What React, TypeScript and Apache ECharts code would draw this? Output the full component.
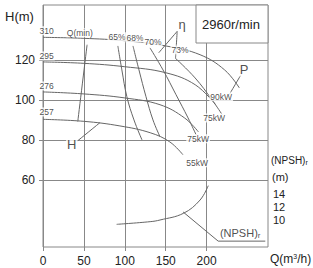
import React, { useEffect, useRef } from "react";
import * as echarts from "echarts";

// Head curves for the four impeller diameters, [Q m³/h, H m]
const H310 = [[0, 131.5], [50, 131], [100, 129.8], [150, 127.2], [192, 122.8], [222, 115.2], [240, 106.2]];
const H295 = [[0, 119.2], [50, 118.5], [100, 116.8], [150, 113.8], [186, 107.8], [211, 97.8]];
const H276 = [[0, 104.2], [50, 103.2], [100, 101.2], [143, 97.8], [173, 91.2], [190, 84.2]];
const H257 = [[0, 90.5], [50, 89.5], [94, 87.2], [131, 83.8], [155, 79.2], [171, 72.8]];

// Iso-efficiency lines
const ETA65 = [[91.5, 127.2], [96.4, 115.2], [102.5, 101.8], [111.2, 90.2], [121, 80.2]];
const ETA68 = [[110, 127.2], [117.3, 115.2], [125.9, 101.8], [134.4, 90.2], [143, 81.8]];
const ETA70 = [[130.8, 126.2], [146.7, 115.2], [162.6, 102.8], [177.3, 91.2], [187.1, 82.8]];
const ETA73 = [[161.4, 121.2], [185.9, 111.2], [206.7, 100.2], [219, 92.8]];

// Required NPSH, [Q m³/h, NPSH m]
const NPSH = [[90, 9.4], [131, 9.8], [143, 10.05], [171.6, 11.05], [192, 13.05], [202, 15.2]];

// Leader lines
const QMIN_LINE = [[53.9, 127.8], [42.5, 89.4]];
const H_LEADER = [[42.5, 79.8], [69.5, 88.8]];
const P_LEADER = [[242, 112.8], [227.6, 102.8]];
const ETA_LEADER_A = [[164, 134.5], [141.5, 123.8]];
const ETA_LEADER_B = [[164, 134.5], [162, 121.2]];
const NPSH_LEADER = [[171.2, 44.2], [214.1, 29.6], [271.7, 29.6]];

// Annotations placed in data units: [Q, H, text]
const CURVE_TAGS: [number, number, string][] = [
  [4.5, 134.8, "310"], [4.5, 122.2, "295"], [4.5, 107.2, "276"], [4.5, 94.2, "257"],
];
const POWER_TAGS: [number, number, string][] = [
  [217.8, 101.8, "90kW"], [209.2, 91.2, "75kW"], [189.6, 80.8, "75kW"], [188.4, 68.8, "55kW"],
];
const EFF_TAGS: [number, number, string][] = [
  [90.4, 131.8, "65%"], [112.4, 131.2, "68%"], [134.4, 129.2, "70%"], [167.5, 125.2, "73%"], [45, 133.8, "Q(min)"],
];
const BIG_TAGS: [number, number, string][] = [
  [170, 137.8, "η"], [245.9, 115.2, "P"], [35.2, 77.8, "H"],
];
const NPSH_TAG: [number, number, string] = [241, 33.6, "(NPSH)r"];

const Q_TICKS = [0, 50, 100, 150, 200];
const H_TICKS = [60, 80, 100, 120];
const NPSH_TICKS = [10, 12, 14];

const FONT = "Liberation Sans, Arial, sans-serif";
const CURVE = "#666";
const GRIDC = "#888";
const TEXT = "#222";

function lineSeries(data: number[][], yAxisIndex = 0, color = CURVE) {
  return {
    type: "line",
    data,
    yAxisIndex,
    smooth: 0.4,
    symbol: "none",
    silent: true,
    lineStyle: { color, width: 1 },
    z: 3,
  };
}

function tagSeries(tags: [number, number, string][], fontSize: number, bg: boolean) {
  return {
    type: "scatter",
    symbolSize: 0,
    silent: true,
    z: 5,
    data: tags.map((t) => ({ value: [t[0], t[1]], name: t[2] })),
    label: {
      show: true,
      position: "inside",
      formatter: (p: any) => p.name,
      color: TEXT,
      fontFamily: FONT,
      fontSize,
      backgroundColor: bg ? "#fff" : "transparent",
      padding: bg ? [0, 1] : 0,
    },
  };
}

export default function App() {
  const ref = useRef<HTMLDivElement>(null);
  useEffect(() => {
    document.body.style.margin = "0";
    if (!ref.current) return;
    const chart = echarts.init(ref.current, null, { renderer: "svg" });
    const third = 20 / 3;
    chart.setOption({
      animation: false,
      backgroundColor: "#fff",
      grid: { left: 43, right: 45, top: 5, bottom: 21, show: true, borderColor: GRIDC, borderWidth: 1 },
      xAxis: {
        type: "value",
        min: 0,
        max: 275,
        interval: 12.5,
        axisLine: { show: false },
        axisTick: { show: true, customValues: Q_TICKS, length: 4, lineStyle: { color: GRIDC } },
        axisLabel: { customValues: Q_TICKS, color: TEXT, fontSize: 12, fontFamily: FONT, margin: 8 },
        splitLine: { show: true, lineStyle: { color: GRIDC, width: 1 } },
      },
      yAxis: [
        {
          type: "value",
          min: 4 * third,
          max: 4 * third + 121,
          interval: third,
          axisLine: { show: false },
          axisTick: { show: true, customValues: H_TICKS, length: 4, lineStyle: { color: GRIDC } },
          axisLabel: { customValues: H_TICKS, color: TEXT, fontSize: 12, fontFamily: FONT, margin: 8 },
          splitLine: { show: true, lineStyle: { color: GRIDC, width: 1 } },
        },
        {
          type: "value",
          position: "right",
          min: 6,
          max: 6 + 121 * 0.3,
          interval: 2,
          axisLine: { show: false },
          axisTick: { show: false },
          axisLabel: { customValues: NPSH_TICKS, color: TEXT, fontSize: 11, fontFamily: FONT, margin: 5, align: "left" },
          splitLine: { show: false },
        },
      ],
      graphic: [
        { type: "rect", shape: { x: 196, y: 5, width: 72, height: 38 }, style: { fill: "#fff", stroke: GRIDC, lineWidth: 1 }, z: 10 },
        { type: "text", x: 231, y: 24, style: { text: "2960r/min", font: `13px ${FONT}`, fill: TEXT, align: "center", verticalAlign: "middle" }, z: 11 },
        { type: "text", x: 5, y: 16, style: { text: "H(m)", font: `13px ${FONT}`, fill: TEXT, verticalAlign: "middle" } },
        {
          type: "text", x: 271, y: 160,
          style: {
            text: "(NPSH){s|r}", font: `10px ${FONT}`, fill: TEXT, verticalAlign: "middle",
            rich: { s: { fontSize: 7, fontFamily: FONT, fill: TEXT, padding: [4, 0, 0, 0] } },
          },
        },
        { type: "text", x: 272, y: 177, style: { text: "(m)", font: `11px ${FONT}`, fill: TEXT, verticalAlign: "middle" } },
        {
          type: "text", x: 270, y: 259,
          style: {
            text: "Q(m{s|3}/h)", font: `12px ${FONT}`, fill: TEXT, verticalAlign: "middle",
            rich: { s: { fontSize: 7, fontFamily: FONT, fill: TEXT, padding: [0, 0, 6, 0] } },
          },
        },
      ],
      series: [
        lineSeries(H310), lineSeries(H295), lineSeries(H276), lineSeries(H257),
        lineSeries(ETA65), lineSeries(ETA68), lineSeries(ETA70), lineSeries(ETA73),
        lineSeries(NPSH, 1),
        lineSeries(QMIN_LINE), lineSeries(H_LEADER), lineSeries(P_LEADER),
        lineSeries(ETA_LEADER_A), lineSeries(ETA_LEADER_B),
        { ...lineSeries(NPSH_LEADER), smooth: false },
        tagSeries(CURVE_TAGS, 8.5, true),
        tagSeries(POWER_TAGS, 8.5, true),
        tagSeries(EFF_TAGS, 8.5, true),
        tagSeries(BIG_TAGS, 13, true),
        {
          type: "scatter", symbolSize: 0, silent: true, z: 5,
          data: [{ value: [NPSH_TAG[0], NPSH_TAG[1]], name: NPSH_TAG[2] }],
          label: {
            show: true, position: "inside", formatter: "(NPSH){s|r}", color: TEXT, fontFamily: FONT, fontSize: 11,
            backgroundColor: "#fff", padding: [0, 1],
            rich: { s: { fontSize: 8, fontFamily: FONT, color: TEXT, padding: [5, 0, 0, 0] } },
          },
        },
      ],
    });
    return () => chart.dispose();
  }, []);
  return <div ref={ref} style={{ width: 313, height: 268 }} />;
}
